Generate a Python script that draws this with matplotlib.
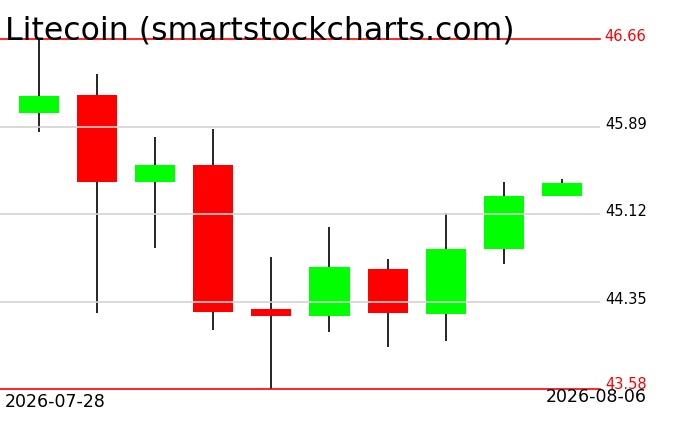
import numpy as np
from matplotlib import pyplot as plt

## Daily candles

dates   = ['2026-07-28', '2026-07-29', '2026-07-30', '2026-07-31', '2026-08-01',
           '2026-08-02', '2026-08-03', '2026-08-04', '2026-08-05', '2026-08-06']
opens   = [46.01, 46.17, 45.40, 45.55, 44.28, 44.22, 44.64, 44.24, 44.81, 45.28]
highs   = [46.66, 46.35, 45.80, 45.87, 44.74, 45.01, 44.72, 45.13, 45.40, 45.43]
lows    = [45.84, 44.25, 44.82, 44.10, 43.58, 44.08, 43.95, 44.00, 44.68, 45.28]
closes  = [46.16, 45.40, 45.55, 44.26, 44.22, 44.65, 44.25, 44.81, 45.28, 45.39]

grid_levels = [45.89, 45.12, 44.35]
price_min, price_max = 43.58, 46.66

W, H = 676, 431
fig = plt.figure(figsize=(W / 100, H / 100), dpi=100)
fig.patch.set_facecolor('white')

# axes spans pixels x 0..600, y 40..390
ax = fig.add_axes([0, (H - 390) / H, 600 / W, 350 / H])
ax.set_axis_off()

x = np.arange(len(dates))
o = np.array(opens); c = np.array(closes)
colors = ['#00ff00' if cc >= oo else '#ff0000' for oo, cc in zip(o, c)]

ax.vlines(x, lows, highs, color='black', lw=1.2, zorder=1)
ax.bar(x, np.abs(c - o), bottom=np.minimum(o, c), width=0.69,
       color=colors, edgecolor='none', zorder=2)

for lvl in grid_levels:
    ax.axhline(lvl, color='#d3d3d3', lw=1.2, zorder=3)
    ax.annotate(f'{lvl:.2f}', xy=(1.0, lvl), xycoords=('axes fraction', 'data'),
                xytext=(3.5, -1), textcoords='offset points',
                ha='left', va='baseline', fontsize=10.5, color='black',
                annotation_clip=False)

# min / max lines in red
ax.axhline(price_max, color='red', lw=1.2, zorder=3, clip_on=False)
ax.annotate(f'{price_max:.2f}', xy=(1.0, price_max), xycoords=('axes fraction', 'data'),
            xytext=(3, -1), textcoords='offset points',
            ha='left', va='baseline', fontsize=10.5, color='red',
            annotation_clip=False)
ax.axhline(price_min, color='red', lw=1.2, zorder=3, clip_on=False)
ax.annotate(f'{price_min:.2f}', xy=(1.0, price_min), xycoords=('axes fraction', 'data'),
            xytext=(3.5, 1), textcoords='offset points',
            ha='left', va='baseline', fontsize=10.5, color='red',
            annotation_clip=False)

step = 58.04
ax.set_xlim(-39.3 / step, (600 - 39.3) / step)
ax.set_ylim(price_min, price_max)

fig.text(5 / W, (H - 39) / H, 'Litecoin (smartstockcharts.com)',
         fontsize=22.7, ha='left', va='baseline', color='black')
fig.text(5 / W, (H - 407) / H, dates[0], fontsize=12.5, ha='left', va='baseline')
fig.text(647 / W, (H - 402) / H, dates[-1], fontsize=12.5, ha='right', va='baseline')

fig.savefig('out.png', dpi=100, facecolor='white')
